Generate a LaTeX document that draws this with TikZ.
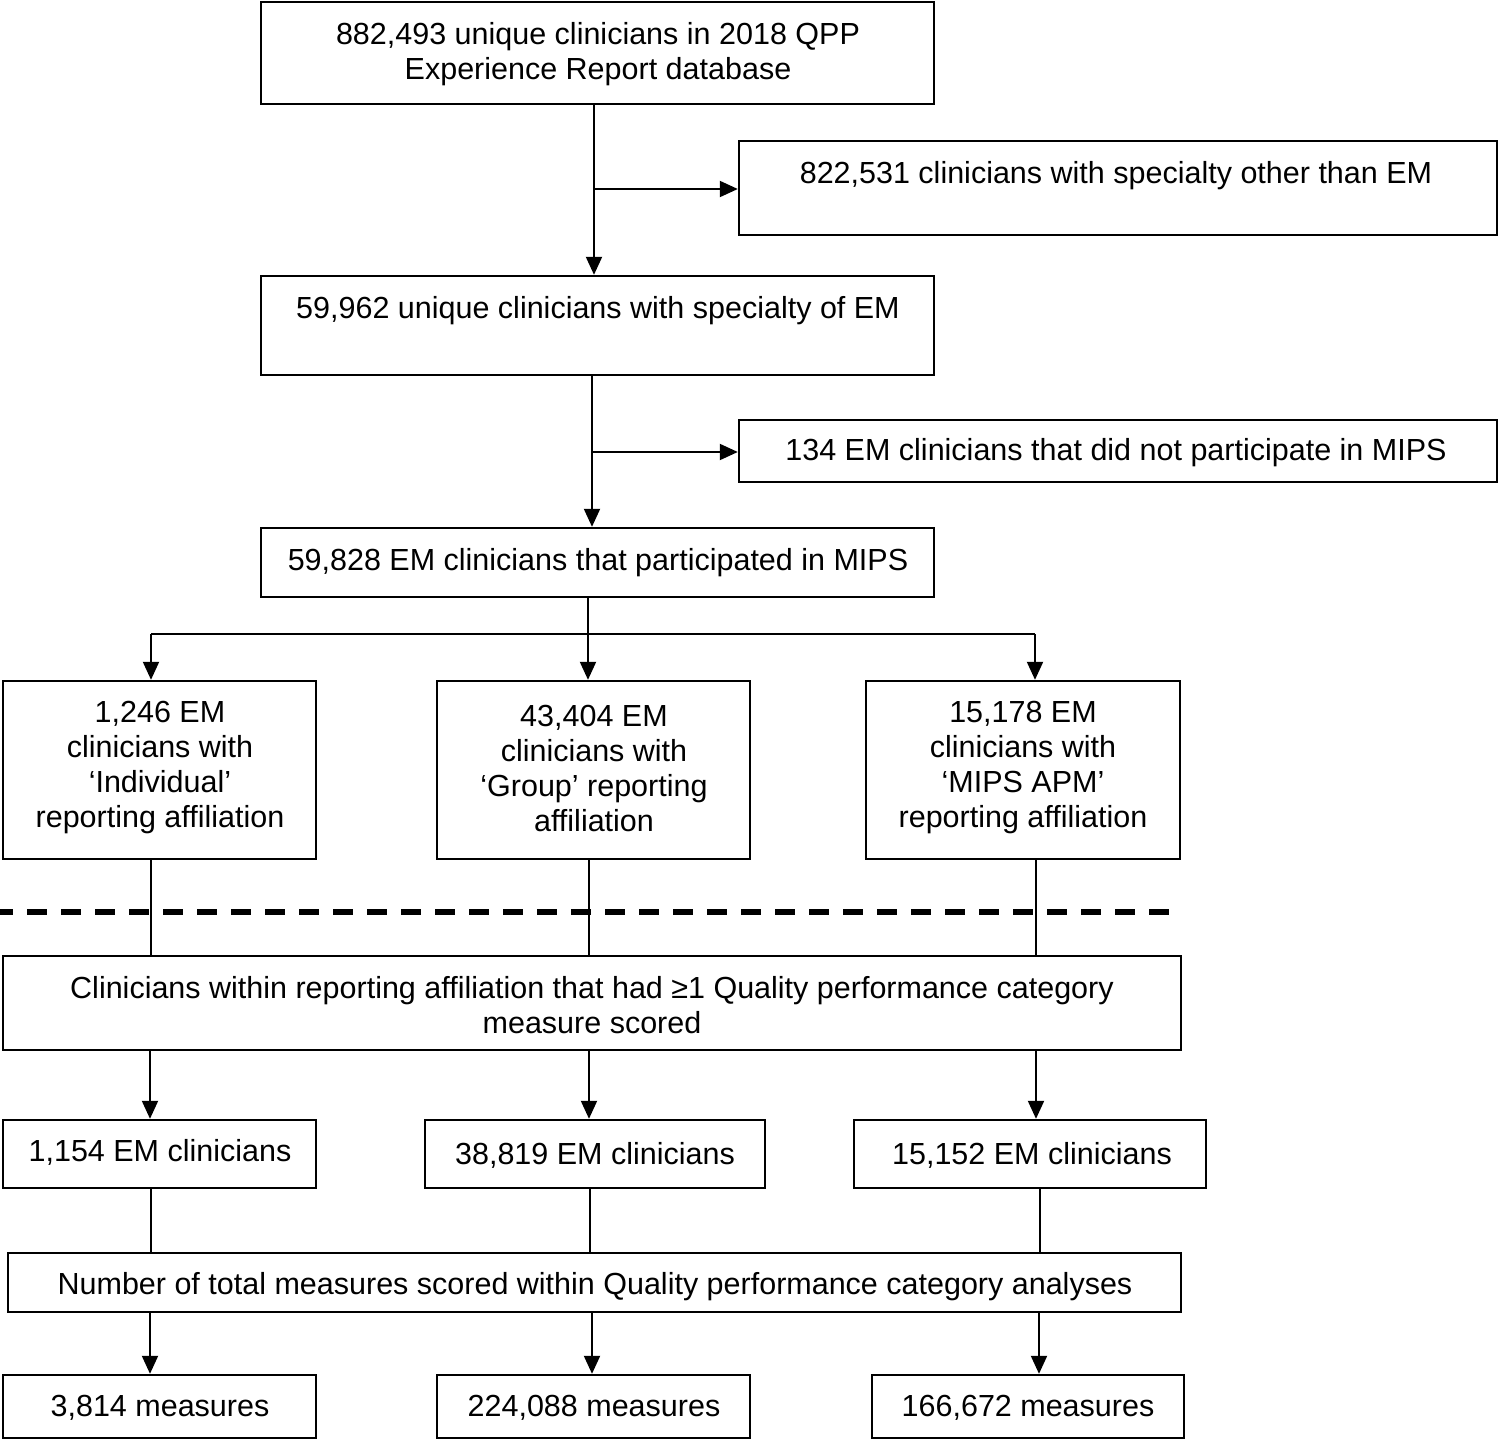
\documentclass[tikz,border=0pt]{standalone}
\usepackage{fontspec}
\setmainfont{Liberation Sans}
\usetikzlibrary{arrows.meta}
\begin{document}
\begin{tikzpicture}[x=1pt,y=-1pt,
  box/.style={draw=black,line width=2.4pt,inner sep=0pt,rectangle},
  txt/.style={align=center,inner sep=0pt,yshift=-3pt,font=\fontsize{30.5}{35}\selectfont},
  ln/.style={line width=2pt,draw=black},
  arr/.style={ln,-{Triangle[length=18pt,width=16pt]}},
  dashline/.style={line width=6pt,dash pattern=on 20pt off 14pt,dash phase=7pt}]
\useasboundingbox (0,0) rectangle (1500,1443);
% boxes
\node[box,minimum width=673pt,minimum height=102pt] (b1) at (597.5,53) {};
\node[box,minimum width=758pt,minimum height=94pt] (b2) at (1118,188) {};
\node[box,minimum width=673pt,minimum height=99pt] (b3) at (597.5,325.5) {};
\node[box,minimum width=758pt,minimum height=62pt] (b4) at (1118,451) {};
\node[box,minimum width=673pt,minimum height=69pt] (b5) at (597.5,562.5) {};
\node[box,minimum width=313pt,minimum height=178pt] (b6a) at (159.5,770) {};
\node[box,minimum width=313pt,minimum height=178pt] (b6b) at (593.5,770) {};
\node[box,minimum width=314pt,minimum height=178pt] (b6c) at (1023,770) {};
\node[box,minimum width=1178pt,minimum height=94pt] (b7) at (592,1003) {};
\node[box,minimum width=313pt,minimum height=68pt] (b8a) at (159.5,1154) {};
\node[box,minimum width=340pt,minimum height=68pt] (b8b) at (595,1154) {};
\node[box,minimum width=352pt,minimum height=68pt] (b8c) at (1030,1154) {};
\node[box,minimum width=1173pt,minimum height=59pt] (b9) at (594.5,1282.5) {};
\node[box,minimum width=313pt,minimum height=63pt] (b10a) at (159.5,1406.5) {};
\node[box,minimum width=313pt,minimum height=63pt] (b10b) at (593.5,1406.5) {};
\node[box,minimum width=312pt,minimum height=63pt] (b10c) at (1028,1406.5) {};
% texts
\node[txt] (t1) at (598,51) {882,493 unique clinicians in 2018 QPP\\Experience Report database};
\node[txt] (t2) at (1116,173) {822,531 clinicians with specialty other than EM};
\node[txt] (t3) at (598,308) {59,962 unique clinicians with specialty of EM};
\node[txt] (t4) at (1116,450) {134 EM clinicians that did not participate in MIPS};
\node[txt] (t5) at (598,560) {59,828 EM clinicians that participated in MIPS};
\node[txt] (t6a) at (160,765) {1,246 EM\\clinicians with\\‘Individual’\\reporting affiliation};
\node[txt] (t6b) at (594,765) {43,404 EM\\clinicians with\\‘Group’ reporting\\affiliation};
\node[txt] (t6c) at (1023,765) {15,178 EM\\clinicians with\\‘MIPS APM’\\reporting affiliation};
\node[txt] (t7) at (592,1002) {Clinicians within reporting affiliation that had ≥1 Quality performance category\\measure scored};
\node[txt] (t8a) at (160,1149) {1,154 EM clinicians};
\node[txt] (t8b) at (595,1152) {38,819 EM clinicians};
\node[txt] (t8c) at (1032,1152) {15,152 EM clinicians};
\node[txt] (t9) at (595,1284) {Number of total measures scored within Quality performance category analyses};
\node[txt] (t10a) at (160,1405) {3,814 measures};
\node[txt] (t10b) at (594,1405) {224,088 measures};
\node[txt] (t10c) at (1028,1405) {166,672 measures};
% branch coordinates
\coordinate (c1) at (594,189);
\coordinate (c2) at (592,452);
\coordinate (c3) at (588,634);
\coordinate (cL) at (151,634);
\coordinate (cR) at (1035,634);
% top connectors
\draw[arr] (c1 |- b1.south) -- (c1 |- b3.north);
\draw[arr] (c1) -- (c1 -| b2.west);
\draw[arr] (c2 |- b3.south) -- (c2 |- b5.north);
\draw[arr] (c2) -- (c2 -| b4.west);
\draw[ln] (c3 |- b5.south) -- (c3);
\draw[ln] (cL) -- (cR);
\draw[arr] (cL) -- (cL |- b6a.north);
\draw[arr] (c3) -- (c3 |- b6b.north);
\draw[arr] (cR) -- (cR |- b6c.north);
% dashed separator
\coordinate (d0) at (0,912);
\coordinate (d1) at (1183,912);
\draw[dashline] (d0) -- (d1);
% lower connectors
\coordinate (x1) at (151,0);
\coordinate (x2) at (589,0);
\coordinate (x3) at (1036,0);
\draw[ln] (x1 |- b6a.south) -- (x1 |- b7.north);
\draw[ln] (x2 |- b6b.south) -- (x2 |- b7.north);
\draw[ln] (x3 |- b6c.south) -- (x3 |- b7.north);
\coordinate (y1) at (150,0);
\coordinate (y2) at (589,0);
\coordinate (y3) at (1036,0);
\draw[arr] (y1 |- b7.south) -- (y1 |- b8a.north);
\draw[arr] (y2 |- b7.south) -- (y2 |- b8b.north);
\draw[arr] (y3 |- b7.south) -- (y3 |- b8c.north);
\coordinate (z1) at (151,0);
\coordinate (z2) at (590,0);
\coordinate (z3) at (1040,0);
\draw[ln] (z1 |- b8a.south) -- (z1 |- b9.north);
\draw[ln] (z2 |- b8b.south) -- (z2 |- b9.north);
\draw[ln] (z3 |- b8c.south) -- (z3 |- b9.north);
\coordinate (w1) at (150,0);
\coordinate (w2) at (592,0);
\coordinate (w3) at (1039,0);
\draw[arr] (w1 |- b9.south) -- (w1 |- b10a.north);
\draw[arr] (w2 |- b9.south) -- (w2 |- b10b.north);
\draw[arr] (w3 |- b9.south) -- (w3 |- b10c.north);
\end{tikzpicture}
\end{document}
